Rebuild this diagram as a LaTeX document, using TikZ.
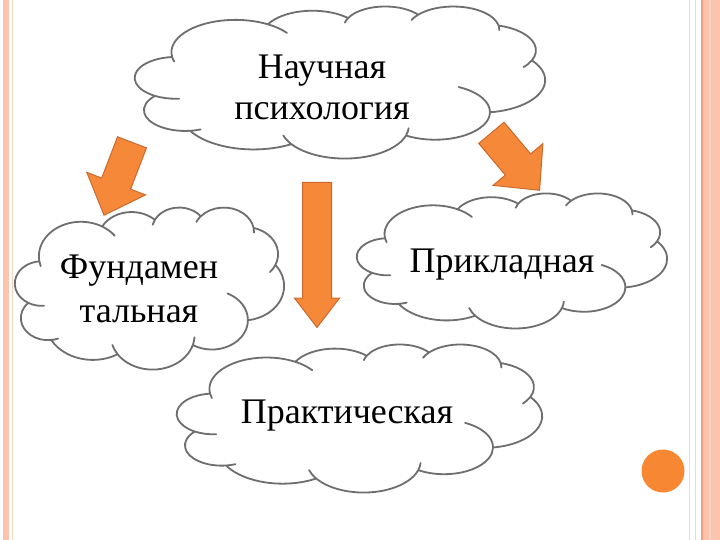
\documentclass[tikz,border=0pt]{standalone}
\usepackage{fontspec}
\setmainfont{Liberation Serif}
\usetikzlibrary{shapes.arrows}
\definecolor{cloudline}{RGB}{110,110,110}
\definecolor{arrowfill}{RGB}{246,136,58}
\definecolor{arrowline}{RGB}{205,105,45}
\definecolor{salmon}{RGB}{252,196,172}
\definecolor{salmondark}{RGB}{244,160,130}
\definecolor{peach}{RGB}{248,214,196}
\definecolor{dotorange}{RGB}{247,135,50}
\tikzset{
  parc/.style n args={4}{insert path={arc[x radius=#1, y radius=#2,
     start angle={atan2((#1)*sin(#3),(#2)*cos(#3))},
     delta angle={mod(atan2((#1)*sin((#3)+(#4)),(#2)*cos((#3)+(#4)))-atan2((#1)*sin(#3),(#2)*cos(#3))+720,360)}]}},
  narc/.style n args={4}{insert path={arc[x radius=#1, y radius=#2,
     start angle={atan2((#1)*sin(#3),(#2)*cos(#3))},
     delta angle={mod(atan2((#1)*sin((#3)+(#4)),(#2)*cos((#3)+(#4)))-atan2((#1)*sin(#3),(#2)*cos(#3))+720,360)-360}]}},
  hookf/.style n args={4}{parc={#1}{#2}{#3}{#4}, narc={#1}{#2}{(#3)+(#4)}{-(#4)}},
  hookb/.style n args={4}{narc={#1}{#2}{#3}{#4}, parc={#1}{#2}{(#3)+(#4)}{-(#4)}},
  cloudstyle/.style={draw=cloudline, fill=white, line width=1.8pt, line join=round, line cap=round},
  cloudtext/.style={align=center, font=\fontsize{36}{41}\selectfont, text=black, inner sep=0pt},
  blockarrow/.style={shape=single arrow, fill=arrowfill, draw=arrowline, line width=1pt,
    inner xsep=0pt, single arrow head indent=0pt},
}
% PowerPoint-style cloud in a box (x0,y0,w,h), coordinates 0..432
\newcommand\pptcloud[4]{%
  \pgfmathsetmacro\cwunit{#3/432}%
  \pgfmathsetmacro\chunit{#4/432}%
  \begin{scope}[shift={(#1,#2)}, x=\cwunit pt, y=-\chunit pt]
  \draw[cloudstyle] (39,143.7)
   [hookb={67.53}{91.9}{-190.4875}{-11.9}]
   [parc={67.53}{91.9}{-190.4875}{123.7805}]
   [hookf={67.53}{91.9}{-66.707}{21.4}]
   [parc={53.33}{72.67}{-144.1024}{89.9452}]
   [hookb={43.65}{59.45}{-145.8079}{-16.3}]
   [parc={43.65}{59.45}{-145.8079}{99.7230}]
   [hookb={48.57}{65.95}{-130.9861}{-17}]
   [parc={48.57}{65.95}{-130.9861}{117.2417}]
   [hookf={48.57}{65.95}{-13.7444}{14.9}]
   [parc={53.33}{72.73}{-78.7089}{109.0269}]
   [hookf={53.33}{72.73}{30.318}{19.5}]
   [parc={67.75}{92.2}{-46.2673}{130.269}]
   [hookb={57.85}{78.67}{0.625}{-71.4}]
   [parc={57.85}{78.67}{0.625}{114.0333}]
   [hookb={67.52}{92.15}{22.4516}{-17.3}]
   [parc={67.52}{92.15}{22.4516}{115.1726}]
   [hookf={67.52}{92.15}{137.6242}{20}]
   [parc={77.2}{105.43}{66.2426}{75.711}]
   [hookb={43.6}{59.18}{-274.9421}{-11.5}]
   [parc={43.6}{59.18}{-274.9421}{146.7356}]
   [hookb={43.45}{59.45}{-246.8285}{-26.4}]
   [parc={43.45}{59.45}{-246.8285}{152.5189}]
   -- cycle;
  \end{scope}}
\begin{document}
\begin{tikzpicture}[x=1pt,y=-1pt]
\useasboundingbox (0,0) rectangle (720,540);
\fill[white] (0,0) rectangle (720,540);
% side stripes
\fill[salmon] (3,0) rectangle (9,540);
\draw[peach, line width=1pt] (12,0) -- (12,540);
\draw[peach, line width=1pt] (689,0) -- (689,540);
\draw[peach, line width=1pt] (695,0) -- (695,540);
\fill[salmon] (702,0) rectangle (720,540);
\draw[salmondark, line width=1.2pt] (702,0) -- (702,540);
\draw[peach, line width=1.5pt] (710,0) -- (710,540);
% dot
\node[circle, fill=dotorange, minimum size=43pt, inner sep=0pt] (dot) at (663,471) {};
% clouds
\pptcloud{135}{6}{410}{152}
\pptcloud{15}{207}{269}{162}
\pptcloud{357}{193}{310}{135}
\pptcloud{177}{344}{365}{148}
% texts
\node[cloudtext] (t1) at (322,87) {Научная\\психология};
\node[cloudtext, font=\fontsize{36}{44}\selectfont] (t2) at (139,289) {Фундамен\\тальная};
\node[cloudtext] (t3) at (502,265) {Прикладная};
\node[cloudtext] (t4) at (347,416) {Практическая};
% arrows
\node[blockarrow, inner ysep=15pt, minimum width=62pt, minimum height=78pt,
  single arrow head extend=16pt, single arrow tip angle=86, rotate=-111] (a1) at (121,171) {};
\node[blockarrow, inner ysep=16pt, minimum width=65pt, minimum height=75pt,
  single arrow head extend=16pt, single arrow tip angle=88, rotate=-50] (a2) at (510,155) {};
\node[blockarrow, inner ysep=14pt, minimum width=43pt, minimum height=145pt,
  single arrow head extend=8pt, single arrow tip angle=75, rotate=-90] (a3) at (317,245.5) {};
\end{tikzpicture}
\end{document}
